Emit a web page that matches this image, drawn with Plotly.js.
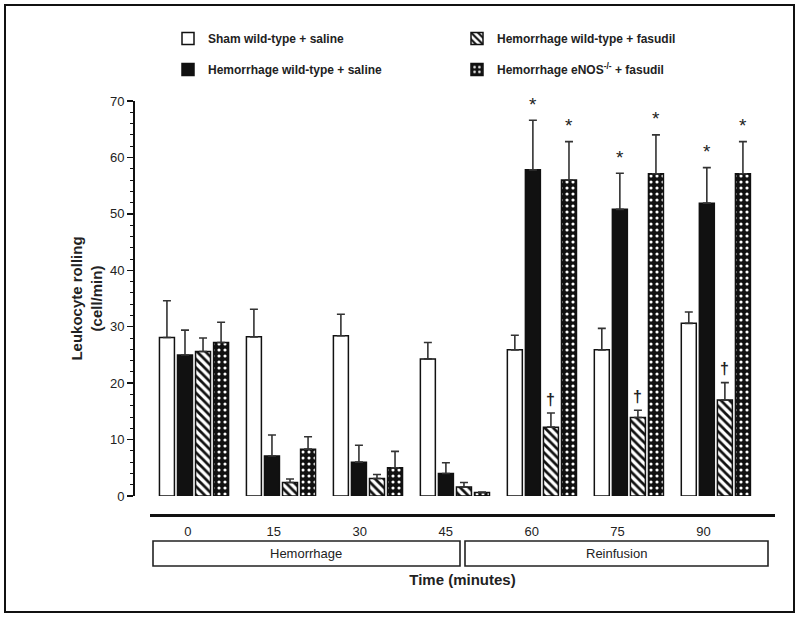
<!DOCTYPE html>
<html>
<head>
<meta charset="utf-8">
<script src="https://cdn.plot.ly/plotly-3.0.1.min.js"></script>
<style>html,body{margin:0;padding:0;background:#fff;}#chart{width:800px;height:620px;}</style>
</head>
<body>
<div id="chart"></div>
<script>
// ---- data ----
const categories = ['0', '15', '30', '45', '60', '75', '90'];
const shamSaline = [28.1, 28.2, 28.4, 24.3, 25.9, 25.9, 30.6];
const shamSalineErr = [6.5, 4.9, 3.8, 2.9, 2.6, 3.8, 2.0];
const hemSaline = [25.0, 7.1, 6.0, 4.0, 57.8, 50.8, 51.9];
const hemSalineErr = [4.4, 3.7, 3.0, 1.9, 8.8, 6.4, 6.3];
const hemFasudil = [25.6, 2.4, 3.1, 1.6, 12.2, 13.9, 17.0];
const hemFasudilErr = [2.4, 0.6, 0.7, 0.8, 2.5, 1.3, 3.1];
const enosFasudil = [27.2, 8.3, 5.0, 0.6, 56.0, 57.1, 57.1];
const enosFasudilErr = [3.6, 2.2, 2.9, 0.1, 6.8, 6.9, 5.7];
const starGroups = [4, 5, 6];    // * vs sham (saline and eNOS groups)
const daggerGroups = [4, 5, 6];  // † vs hemorrhage wild-type + saline
const phaseLabels = ['Hemorrhage', 'Reinfusion'];

// ---- layout helpers ----
const xs = categories.map((_, i) => i);
const bargap = 0.17, nTraces = 4;
const slot = (1 - bargap) / nTraces;
const offsetOf = k => (k - (nTraces - 1) / 2) * slot;
const FONT = 'Liberation Sans, Arial, sans-serif';

function errY(arr) {
  return {type: 'data', symmetric: false, array: arr, arrayminus: arr.map(() => 0),
          color: '#333', thickness: 1.6, width: 4};
}
const outline = {color: '#111', width: 1.5};

const traces = [
  {type: 'bar', name: 'Sham wild-type + saline', x: xs, y: shamSaline, error_y: errY(shamSalineErr),
   marker: {color: '#ffffff', line: outline}, legend: 'legend'},
  {type: 'bar', name: 'Hemorrhage wild-type + saline', x: xs, y: hemSaline, error_y: errY(hemSalineErr),
   marker: {color: '#111111', line: outline}, legend: 'legend3'},
  {type: 'bar', name: 'Hemorrhage wild-type + fasudil', x: xs, y: hemFasudil, error_y: errY(hemFasudilErr),
   marker: {color: '#ffffff', line: outline,
            pattern: {shape: '\\', fgcolor: '#111', bgcolor: '#fff', size: 6, solidity: 0.45}}, legend: 'legend2'},
  {type: 'bar', name: 'Hemorrhage eNOS<sup>-/-</sup> + fasudil', x: xs, y: enosFasudil, error_y: errY(enosFasudilErr),
   marker: {color: '#111111', line: outline,
            pattern: {shape: '.', fgcolor: '#ffffff', bgcolor: '#111', size: 6, solidity: 0.22}}, legend: 'legend4'}
];

const annotations = [];
starGroups.forEach(i => {
  annotations.push({x: i + offsetOf(1), y: hemSaline[i] + hemSalineErr[i], xref: 'x', yref: 'y',
    text: '*', showarrow: false, yshift: 16, font: {family: FONT, size: 19, color: '#222'}});
  annotations.push({x: i + offsetOf(3), y: enosFasudil[i] + enosFasudilErr[i], xref: 'x', yref: 'y',
    text: '*', showarrow: false, yshift: 16, font: {family: FONT, size: 19, color: '#222'}});
});
daggerGroups.forEach(i => {
  annotations.push({x: i + offsetOf(2), y: hemFasudil[i] + hemFasudilErr[i], xref: 'x', yref: 'y',
    text: '<b>†</b>', showarrow: false, yshift: 14, font: {family: FONT, size: 16, color: '#222'}});
});

// plot area: left 134, right 775, top 101, bottom 515
const L = 134, R = 775, T = 101, B = 515;
const W = R - L, H = B - T;
const px = v => (v - L) / W;
const py = v => (B - v) / H;

annotations.push({x: px(306), y: py(553), xref: 'paper', yref: 'paper', xanchor: 'center', yanchor: 'middle',
  text: phaseLabels[0], showarrow: false, font: {family: FONT, size: 13, color: '#222'}});
annotations.push({x: px(616), y: py(553), xref: 'paper', yref: 'paper', xanchor: 'center', yanchor: 'middle',
  text: phaseLabels[1], showarrow: false, font: {family: FONT, size: 13, color: '#222'}});

const shapes = [
  {type: 'rect', xref: 'paper', yref: 'paper', x0: px(153), x1: px(460), y0: py(541), y1: py(566),
   line: {color: '#222', width: 1.6}},
  {type: 'rect', xref: 'paper', yref: 'paper', x0: px(465), x1: px(768), y0: py(541), y1: py(566),
   line: {color: '#222', width: 1.6}},
  {type: 'rect', xref: 'paper', yref: 'paper', x0: px(5), x1: px(794), y0: py(612), y1: py(5),
   line: {color: '#111', width: 2}}
];

function legendAt(xPix, yPix) {
  return {orientation: 'v', xanchor: 'left', yanchor: 'top', x: px(xPix), y: py(yPix),
    font: {family: FONT, size: 12, color: '#222', weight: 'bold'}, bgcolor: 'rgba(0,0,0,0)'};
}

const layout = {
  width: 800, height: 620,
  margin: {l: L, r: 800 - R, t: T, b: 620 - B},
  paper_bgcolor: '#fff', plot_bgcolor: '#fff',
  font: {family: FONT, color: '#222'},
  barmode: 'group', bargap: bargap, bargroupgap: 0.17,
  showlegend: true,
  legend: legendAt(168, 24),
  legend2: legendAt(457, 24),
  legend3: legendAt(168, 55),
  legend4: legendAt(457, 55),
  xaxis: {
    domain: [px(150), 1], anchor: 'free', position: 0,
    range: [-0.506, 6.68], showline: true, linewidth: 2.5, linecolor: '#111',
    ticks: '', showgrid: false, zeroline: false,
    tickvals: xs.map(i => i * 0.988 - 0.07), ticktext: categories,
    tickfont: {family: FONT, size: 13, color: '#222'}, ticklabelstandoff: 4,
    title: {text: '<b>Time (minutes)</b>', font: {family: FONT, size: 15, color: '#222'}, standoff: 36}
  },
  yaxis: {
    domain: [py(496), 1], anchor: 'free', position: 0,
    range: [0, 70], dtick: 10, showline: true, linewidth: 2, linecolor: '#111',
    ticks: 'outside', ticklen: 6, tickwidth: 1.5, tickcolor: '#111',
    minor: {dtick: 2, ticks: 'outside', ticklen: 3, tickwidth: 1, tickcolor: '#111'},
    showgrid: false, zeroline: false,
    tickfont: {family: FONT, size: 13, color: '#222'},
    title: {text: '<b>Leukocyte rolling<br>(cell/min)</b>', font: {family: FONT, size: 15, color: '#222'}, standoff: 3}
  },
  annotations: annotations,
  shapes: shapes
};

Plotly.newPlot('chart', traces, layout, {displayModeBar: false, staticPlot: true});
</script>
</body>
</html>
